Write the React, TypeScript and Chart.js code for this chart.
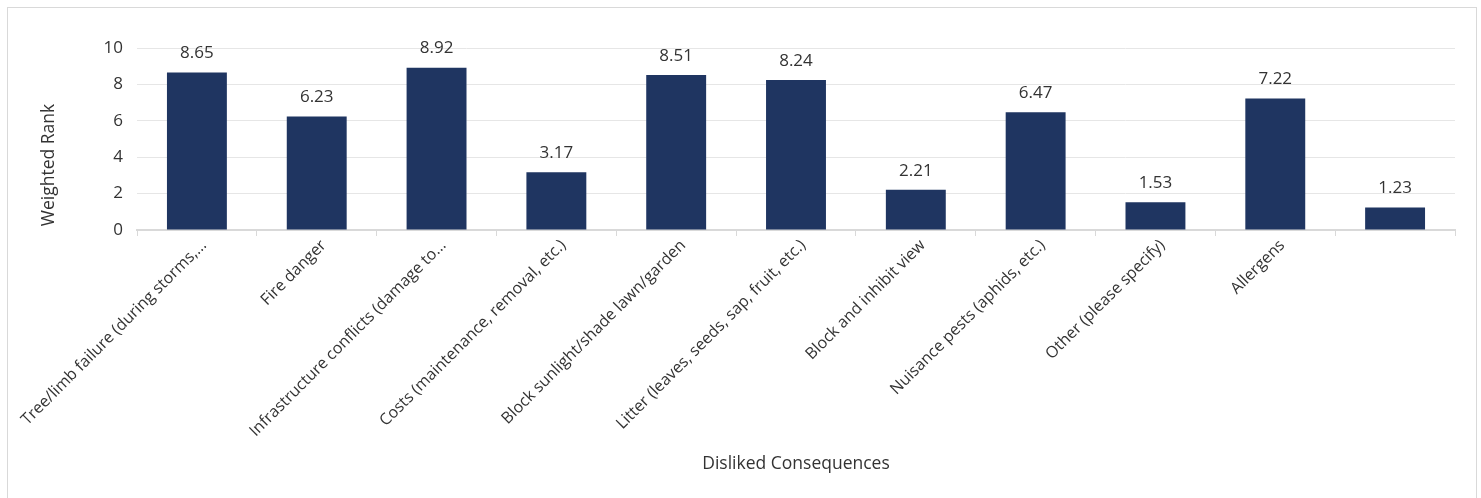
import React, { useEffect, useRef } from "react";
import { Chart, registerables } from "chart.js";

Chart.register(...registerables);

const categories: string[] = [
  "Tree/limb failure (during storms,...",
  "Fire danger",
  "Infrastructure conflicts (damage to...",
  "Costs (maintenance, removal, etc.)",
  "Block sunlight/shade lawn/garden",
  "Litter (leaves, seeds, sap, fruit, etc.)",
  "Block and inhibit view",
  "Nuisance pests (aphids, etc.)",
  "Other (please specify)",
  "Allergens",
  "",
];
const weightedRank: number[] = [8.65, 6.23, 8.92, 3.17, 8.51, 8.24, 2.21, 6.47, 1.53, 7.22, 1.23];
const yTicks: number[] = [0, 2, 4, 6, 8, 10];
const xTitle = "Disliked Consequences";
const yTitle = "Weighted Rank";

const FONT = "'Open Sans', sans-serif";
const TEXT = "#333333";

const labelPlugin = {
  id: "valueLabels",
  afterDatasetsDraw(chart: any) {
    const ctx = chart.ctx;
    const meta = chart.getDatasetMeta(0);
    ctx.save();
    ctx.font = `17px ${FONT}`;
    ctx.fillStyle = TEXT;
    ctx.textAlign = "center";
    ctx.textBaseline = "middle";
    meta.data.forEach((bar: any, i: number) => {
      ctx.fillText(weightedRank[i].toFixed(2), bar.x, bar.y - 19);
    });
    ctx.restore();
  },
  afterDraw(chart: any) {
    const ctx = chart.ctx;
    const a = chart.chartArea;
    ctx.save();
    ctx.font = `17.5px ${FONT}`;
    ctx.fillStyle = TEXT;
    ctx.textAlign = "center";
    ctx.textBaseline = "middle";
    ctx.fillText(xTitle, (a.left + a.right) / 2, a.bottom + 234);
    ctx.translate(a.left - 88, a.bottom - 65);
    ctx.rotate(-Math.PI / 2);
    ctx.fillText(yTitle, 0, 0);
    ctx.restore();
  },
};

export default function App() {
  const ref = useRef<HTMLCanvasElement | null>(null);
  useEffect(() => {
    if (!ref.current) return;
    const chart = new Chart(ref.current, {
      type: "bar",
      data: {
        labels: categories,
        datasets: [
          {
            data: weightedRank,
            backgroundColor: "#1f3561",
            borderWidth: 0,
            barPercentage: 1,
            categoryPercentage: 0.5,
          },
        ],
      },
      options: {
        animation: false,
        responsive: false,
        maintainAspectRatio: false,
        layout: { padding: { left: 0, right: 21, top: 40, bottom: 0 } },
        plugins: {
          legend: { display: false },
          tooltip: { enabled: false },
          title: { display: false },
        },
        scales: {
          x: {
            afterFit: (s: any) => {
              s.height = 268;
            },
            grid: {
              offset: true,
              drawOnChartArea: false,
              drawTicks: true,
              tickLength: 6,
              color: "#d9d9d9",
            },
            border: { color: "#d9d9d9", width: 2 },
            ticks: {
              autoSkip: false,
              minRotation: 45,
              maxRotation: 45,
              color: TEXT,
              font: { family: FONT, size: 16 },
              padding: 0,
              labelOffset: 7,
            },
          },
          y: {
            min: 0,
            max: 10,
            afterFit: (s: any) => {
              s.width = 129;
            },
            afterBuildTicks: (s: any) => {
              s.ticks = yTicks.map((v) => ({ value: v }));
            },
            grid: { color: "#e6e6e6", drawTicks: false, lineWidth: 1 },
            border: { display: false },
            ticks: {
              color: TEXT,
              font: { family: FONT, size: 17 },
              padding: 14,
            },
          },
        },
      },
      plugins: [labelPlugin],
    });
    return () => chart.destroy();
  }, []);
  return (
    <div
      style={{
        position: "absolute",
        left: 7,
        top: 7,
        width: 1468,
        height: 500,
        border: "1px solid #d9d9d9",
        background: "#fff",
      }}
    >
      <canvas ref={ref} width={1468} height={490} style={{ display: "block" }} />
    </div>
  );
}
